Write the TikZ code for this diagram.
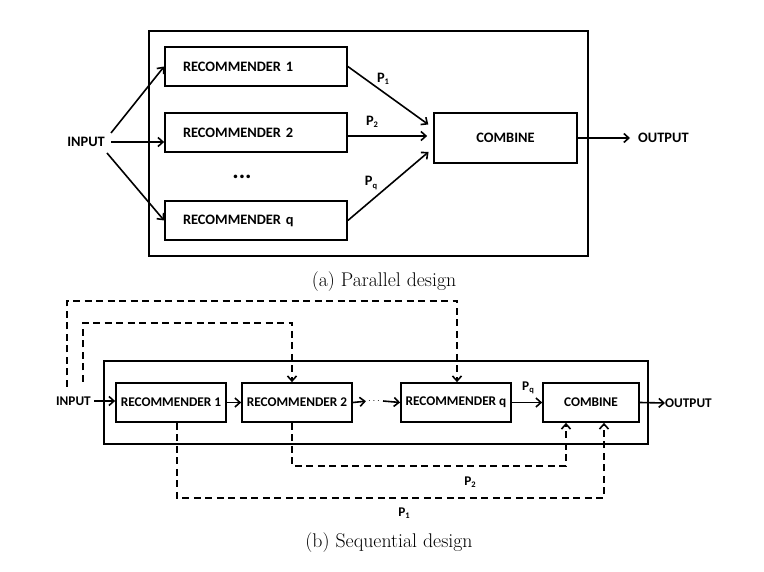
\documentclass[tikz,border=0pt]{standalone}
\usepackage{fontspec}
\newfontfamily\lblfont{Carlito}
\usetikzlibrary{arrows.meta,calc}

\tikzset{
  lbl/.style={font=\lblfont\bfseries\fontsize{14.4}{16}\selectfont, inner sep=0pt},
  lblsmall/.style={font=\lblfont\bfseries\fontsize{13.3}{15}\selectfont, inner sep=0pt},
  frame/.style={draw, line width=1.7pt},
  recbox/.style={draw, line width=1.7pt, minimum width=182pt, minimum height=39pt,
    text width=146pt, align=left, inner xsep=18pt, inner ysep=0pt, lbl},
  seqbox/.style={draw, line width=1.7pt, minimum height=39pt, inner sep=0pt, lblsmall},
  arr/.style={line width=1.6pt, -{Straight Barb[length=5pt,width=9pt,line width=1.6pt]}},
  dasharr/.style={arr, dash pattern=on 7pt off 4.5pt},
  plabel/.style={lbl},
  caption/.style={font=\fontsize{19.8}{22}\selectfont, inner sep=0pt}
}
\newcommand{\Psub}[1]{P\raisebox{-0.35ex}{\fontsize{8.5}{9}\selectfont #1}}

\begin{document}
\begin{tikzpicture}[x=1pt, y=-1pt]
  \useasboundingbox (0,0) rectangle (764,572);

  % ---------- (a) parallel design ----------
  \draw[frame] (149,31) rectangle (588,256);

  \node[recbox] (r1) at (256,66.5) {RECOMMENDER 1};
  \node[recbox] (r2) at (256,132.5) {RECOMMENDER 2};
  \node[recbox] (rq) at (256,220.5) {RECOMMENDER q};
  \node[font=\lblfont\bfseries\fontsize{24}{24}\selectfont, inner sep=0pt] (dotsA) at (242,177) {...};

  \node[draw, line width=1.7pt, minimum width=143pt, minimum height=50pt, inner sep=0pt, lbl]
    (comb) at (505.5,138) {COMBINE};

  \node[lbl, anchor=east, inner xsep=6pt] (inA) at (111,142) {INPUT};
  \node[lbl, anchor=west] (outA) at (638,138) {OUTPUT};

  \draw[arr] ([yshift=9pt]inA.east) -- (r1.west);
  \draw[arr] (inA.east) -- (inA.east -| r2.west);
  \draw[arr] ([xshift=-4pt,yshift=-11pt]inA.east) -- (rq.west);

  \coordinate (c1) at ([yshift=10pt]comb.west);
  \coordinate (c2) at ([yshift=2pt]comb.west);
  \coordinate (c3) at ([yshift=-10pt]comb.west);
  \draw[arr, shorten >=6pt] (r1.east) -- (c1);
  \draw[arr, shorten >=6pt] (r2.east |- c2) -- (c2);
  \draw[arr, shorten >=6pt] (rq.east) -- (c3);

  \node[plabel] (p1a) at (383,79) {\Psub{1}};
  \node[plabel] (p2a) at (372,122) {\Psub{2}};
  \node[plabel] (pqa) at (371,183) {\Psub{q}};

  \draw[arr, shorten >=8pt] (comb.east) -- (outA.west);

  \node[caption] (capA) at (384,282) {(a) Parallel design};

  % ---------- (b) sequential design ----------
  \draw[frame] (104,361) rectangle (648,444);

  \node[seqbox, minimum width=110pt] (b1) at (171,402.5) {RECOMMENDER 1};
  \node[seqbox, minimum width=110pt] (b2) at (297,402.5) {RECOMMENDER 2};
  \node[seqbox, minimum width=110pt] (bq) at (456,402.5) {RECOMMENDER q};
  \node[seqbox, minimum width=96pt] (bc) at (591,402.5) {COMBINE};

  \node[lblsmall, anchor=east] (inB) at (91,401) {INPUT};
  \node[lblsmall, anchor=west] (outB) at (665,403) {OUTPUT};
  \node[font=\bfseries, inner sep=0pt] (dotsB) at (374,401) {$\cdots$};

  \draw[arr] ([xshift=3pt]inB.east) -- (inB.east -| b1.west);
  \draw[arr] (b1.east) -- (b2.west);
  \draw[arr, shorten >=2pt] (b2.east) -- (dotsB.west);
  \draw[arr] ([xshift=3pt]dotsB.east) -- (bq.west);
  \draw[arr] (bq.east) -- (bc.west);
  \draw[arr] (bc.east) -- (outB.west);
  \node[lblsmall] (pqb) at (528,388) {\Psub{q}};

  % feedback of the input to later recommenders
  \coordinate (d1) at (67,387);
  \coordinate (d2) at (83,382);
  \draw[dasharr] (d1) |- (457,301) -- ([xshift=1pt]bq.north);
  \draw[dasharr] (d2) |- (292,323) -- ([xshift=-5pt]b2.north);

  % predictions passed straight to the combiner
  \draw[dasharr] ([xshift=-5pt]b2.south) |- (566,466) -- ([xshift=-25pt]bc.south);
  \draw[dasharr] ([xshift=6pt]b1.south) |- (604,498) -- ([xshift=13pt]bc.south);
  \node[lblsmall] (p2b) at (470,482) {\Psub{2}};
  \node[lblsmall] (p1b) at (404,513) {\Psub{1}};

  \node[caption] (capB) at (389,543) {(b) Sequential design};
\end{tikzpicture}
\end{document}
